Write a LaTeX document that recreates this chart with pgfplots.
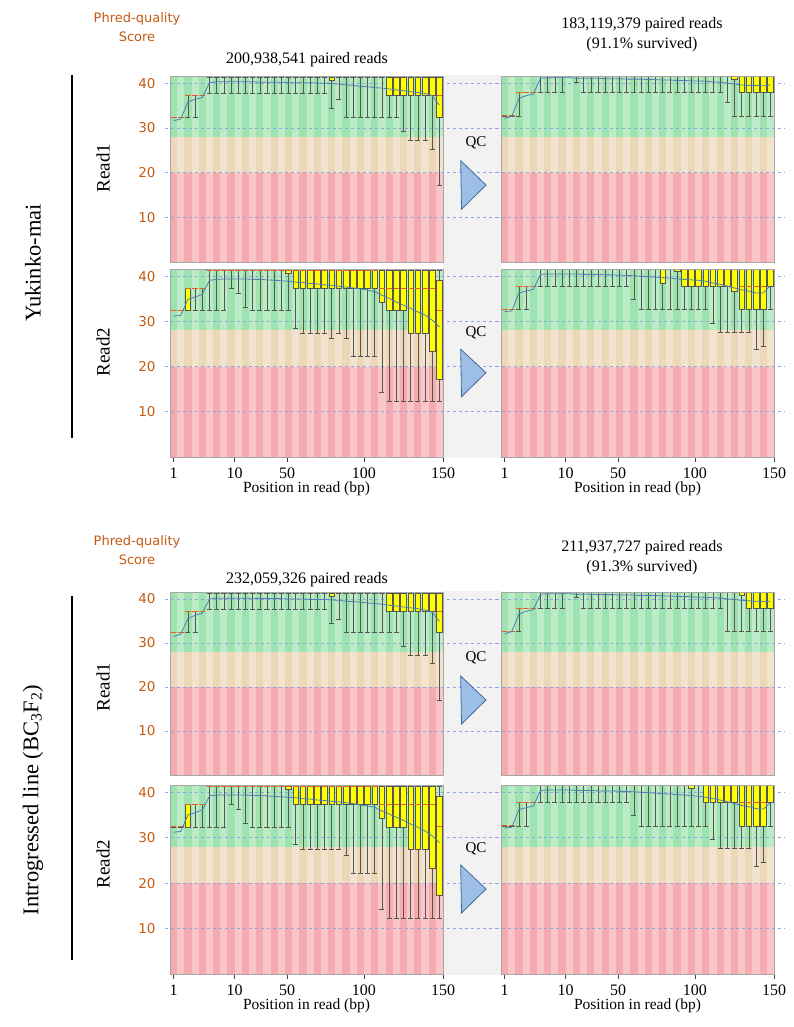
\documentclass[border=0pt]{standalone}
\usepackage{fontspec}
\setmainfont{Liberation Serif}
\newfontfamily\dv{DejaVu Sans}
\usepackage{pgfplots}
\usepackage{pgfplotstable}
\usepgfplotslibrary{statistics}
\pgfplotsset{compat=1.18}

\definecolor{phred}{RGB}{197,90,17}
\definecolor{bgg}{RGB}{157,226,175}
\definecolor{bgo}{RGB}{236,215,185}
\definecolor{bgr}{RGB}{245,170,175}
\definecolor{gridc}{RGB}{140,168,222}
\definecolor{whisk}{RGB}{85,85,85}
\definecolor{boxy}{RGB}{255,255,0}
\definecolor{medc}{RGB}{230,95,40}
\definecolor{meanc}{RGB}{80,125,180}
\definecolor{gapc}{RGB}{242,242,242}
\definecolor{trif}{RGB}{157,190,230}
\definecolor{trid}{RGB}{65,105,160}

% per-position quality: 10% whisker, quartiles, median, 90% whisker, mean
% Yukinko-mai, Read1, raw
\pgfplotstableread{
c lo q1 med q3 hi mean
1 32.4 32.4 32.4 32.4 32.4 31.6
2 32.4 32.4 32.4 32.4 32.4 32.0
3 32.4 37.3 37.3 37.3 37.3 35.8
4 32.4 37.3 37.3 37.3 37.3 36.4
5 37.3 37.3 37.3 37.3 37.3 36.8
6 37.7 41.4 41.4 41.4 41.4 40.1
7 37.7 41.4 41.4 41.4 41.4 40.3
8 37.7 41.4 41.4 41.4 41.4 40.3
9 37.7 41.4 41.4 41.4 41.4 40.3
10 37.7 41.4 41.4 41.4 41.4 40.3
11 37.7 41.4 41.4 41.4 41.4 40.3
12 37.7 41.4 41.4 41.4 41.4 40.3
13 37.7 41.4 41.4 41.4 41.4 40.2
14 37.7 41.4 41.4 41.4 41.4 40.2
15 37.7 41.4 41.4 41.4 41.4 40.2
16 37.7 41.4 41.4 41.4 41.4 40.2
17 37.7 41.4 41.4 41.4 41.4 40.1
18 37.7 41.4 41.4 41.4 41.4 40.1
19 37.7 41.4 41.4 41.4 41.4 40.1
20 37.7 41.4 41.4 41.4 41.4 40.1
21 37.7 41.4 41.4 41.4 41.4 40.0
22 37.7 41.4 41.4 41.4 41.4 40.0
23 34.4 40.7 41.4 41.4 41.4 39.9
24 36.4 41.4 41.4 41.4 41.4 39.8
25 32.4 41.4 41.4 41.4 41.4 39.6
26 32.4 41.4 41.4 41.4 41.4 39.5
27 32.4 41.4 41.4 41.4 41.4 39.3
28 32.4 41.4 41.4 41.4 41.4 39.2
29 32.4 41.4 41.4 41.4 41.4 39.0
30 32.4 41.4 41.4 41.4 41.4 38.9
31 32.4 37.3 41.4 41.4 41.4 38.7
32 32.4 37.3 41.4 41.4 41.4 38.5
33 29.2 37.3 41.4 41.4 41.4 38.3
34 27.3 37.3 41.4 41.4 41.4 38.1
35 27.3 37.3 41.4 41.4 41.4 37.9
36 27.3 37.3 41.4 41.4 41.4 37.7
37 25.3 37.3 41.4 41.4 41.4 37.2
38 17.1 32.4 37.3 41.4 41.4 35.1
}\tA
% Yukinko-mai, Read2, raw
\pgfplotstableread{
c lo q1 med q3 hi mean
1 32.4 32.4 32.4 32.4 32.4 31.2
2 32.4 32.4 32.4 32.4 32.4 31.3
3 32.4 32.4 37.3 37.3 37.3 34.9
4 32.4 37.3 37.3 37.3 37.3 35.4
5 32.4 37.3 37.3 37.3 37.3 36.0
6 32.4 41.3 41.3 41.3 41.3 39.1
7 32.4 41.3 41.3 41.3 41.3 39.3
8 32.4 41.3 41.3 41.3 41.3 39.4
9 37.3 41.3 41.3 41.3 41.3 39.4
10 36.3 41.3 41.3 41.3 41.3 39.4
11 33.2 41.3 41.3 41.3 41.3 39.4
12 32.4 41.3 41.3 41.3 41.3 39.3
13 32.4 41.3 41.3 41.3 41.3 39.3
14 32.4 41.3 41.3 41.3 41.3 39.2
15 32.4 41.3 41.3 41.3 41.3 39.1
16 32.4 41.3 41.3 41.3 41.3 39.0
17 32.4 40.6 41.3 41.3 41.3 38.9
18 28.5 37.3 41.3 41.3 41.3 38.7
19 27.4 37.3 41.3 41.3 41.3 38.6
20 27.4 37.3 41.3 41.3 41.3 38.4
21 27.4 37.3 41.3 41.3 41.3 38.3
22 27.4 37.3 41.3 41.3 41.3 38.1
23 26.2 37.3 41.3 41.3 41.3 38.0
24 27.4 37.3 41.3 41.3 41.3 37.8
25 26.2 37.3 41.3 41.3 41.3 37.6
26 22.2 37.3 41.3 41.3 41.3 37.4
27 22.2 37.3 41.3 41.3 41.3 37.2
28 22.2 37.3 41.3 41.3 41.3 36.9
29 22.2 37.3 41.3 41.3 41.3 36.6
30 14.3 34.3 37.3 41.3 41.3 35.8
31 12.3 32.4 37.3 41.3 41.3 35.1
32 12.3 32.4 37.3 41.3 41.3 34.3
33 12.3 32.4 37.3 41.3 41.3 33.6
34 12.3 27.4 37.3 41.3 41.3 32.9
35 12.3 27.4 37.3 41.3 41.3 32.1
36 12.3 27.4 37.3 41.3 41.3 31.4
37 12.3 23.3 37.3 41.3 41.3 30.3
38 12.3 17.3 32.4 39.1 41.3 28.8
}\tB
% Yukinko-mai, Read1, after QC
\pgfplotstableread{
c lo q1 med q3 hi mean
1 32.7 32.7 32.7 32.7 32.7 32.1
2 32.7 32.7 32.7 32.7 32.7 32.6
3 32.7 37.9 37.9 37.9 37.9 36.6
4 37.9 37.9 37.9 37.9 37.9 37.2
5 37.9 37.9 37.9 37.9 37.9 37.6
6 37.9 41.5 41.5 41.5 41.5 41.1
7 37.9 41.5 41.5 41.5 41.5 41.2
8 37.9 41.5 41.5 41.5 41.5 41.2
9 37.9 41.5 41.5 41.5 41.5 41.2
10 41.5 41.5 41.5 41.5 41.5 41.2
11 40.3 41.5 41.5 41.5 41.5 41.1
12 37.9 41.5 41.5 41.5 41.5 41.1
13 37.9 41.5 41.5 41.5 41.5 41.1
14 37.9 41.5 41.5 41.5 41.5 41.1
15 37.9 41.5 41.5 41.5 41.5 41.0
16 37.9 41.5 41.5 41.5 41.5 41.0
17 37.9 41.5 41.5 41.5 41.5 41.0
18 37.9 41.5 41.5 41.5 41.5 40.9
19 37.9 41.5 41.5 41.5 41.5 40.9
20 37.9 41.5 41.5 41.5 41.5 40.9
21 37.9 41.5 41.5 41.5 41.5 40.8
22 37.9 41.5 41.5 41.5 41.5 40.8
23 37.9 41.5 41.5 41.5 41.5 40.7
24 37.9 41.5 41.5 41.5 41.5 40.7
25 37.9 41.5 41.5 41.5 41.5 40.6
26 37.9 41.5 41.5 41.5 41.5 40.6
27 37.9 41.5 41.5 41.5 41.5 40.5
28 37.9 41.5 41.5 41.5 41.5 40.5
29 37.9 41.5 41.5 41.5 41.5 40.4
30 37.9 41.5 41.5 41.5 41.5 40.3
31 37.9 41.5 41.5 41.5 41.5 40.2
32 35.7 41.5 41.5 41.5 41.5 40.0
33 32.7 40.9 41.5 41.5 41.5 39.8
34 32.7 37.9 41.5 41.5 41.5 39.6
35 32.7 37.9 41.5 41.5 41.5 39.5
36 32.7 37.9 41.5 41.5 41.5 39.5
37 32.7 37.9 41.5 41.5 41.5 39.4
38 32.7 37.9 41.5 41.5 41.5 39.6
}\tC
% Yukinko-mai, Read2, after QC
\pgfplotstableread{
c lo q1 med q3 hi mean
1 32.6 32.6 32.6 32.6 32.6 32.2
2 32.6 32.6 32.6 32.6 32.6 32.3
3 32.6 37.8 37.8 37.8 37.8 36.3
4 32.6 37.8 37.8 37.8 37.8 36.7
5 37.8 37.8 37.8 37.8 37.8 37.1
6 37.8 41.5 41.5 41.5 41.5 40.4
7 37.8 41.5 41.5 41.5 41.5 40.5
8 37.8 41.5 41.5 41.5 41.5 40.5
9 37.8 41.5 41.5 41.5 41.5 40.5
10 37.8 41.5 41.5 41.5 41.5 40.5
11 37.8 41.5 41.5 41.5 41.5 40.5
12 37.8 41.5 41.5 41.5 41.5 40.4
13 37.8 41.5 41.5 41.5 41.5 40.4
14 37.8 41.5 41.5 41.5 41.5 40.4
15 37.8 41.5 41.5 41.5 41.5 40.3
16 37.8 41.5 41.5 41.5 41.5 40.3
17 37.8 41.5 41.5 41.5 41.5 40.2
18 37.8 41.5 41.5 41.5 41.5 40.2
19 34.9 41.5 41.5 41.5 41.5 40.1
20 32.6 41.5 41.5 41.5 41.5 40.0
21 32.6 41.5 41.5 41.5 41.5 39.9
22 32.6 41.5 41.5 41.5 41.5 39.8
23 32.6 38.5 41.5 41.5 41.5 39.7
24 32.6 41.5 41.5 41.5 41.5 39.6
25 32.6 41.0 41.5 41.5 41.5 39.4
26 32.6 37.8 41.5 41.5 41.5 39.3
27 32.6 37.8 41.5 41.5 41.5 39.2
28 32.6 37.8 41.5 41.5 41.5 39.1
29 32.6 37.8 41.5 41.5 41.5 38.9
30 29.7 37.8 41.5 41.5 41.5 38.5
31 27.6 37.8 41.5 41.5 41.5 38.2
32 27.6 37.8 41.5 41.5 41.5 37.8
33 27.6 36.7 41.5 41.5 41.5 37.4
34 27.6 32.6 37.8 41.5 41.5 37.0
35 27.6 32.6 37.8 41.5 41.5 36.7
36 23.8 32.6 37.8 41.5 41.5 36.3
37 24.6 32.6 37.8 41.5 41.5 36.3
38 32.6 37.8 41.5 41.5 41.5 37.9
}\tD
% Introgressed line, Read1, raw
\pgfplotstableread{
c lo q1 med q3 hi mean
1 32.4 32.4 32.4 32.4 32.4 31.5
2 32.4 32.4 32.4 32.4 32.4 32.0
3 32.4 37.3 37.3 37.3 37.3 35.6
4 32.4 37.3 37.3 37.3 37.3 36.3
5 37.3 37.3 37.3 37.3 37.3 36.8
6 37.7 41.4 41.4 41.4 41.4 40.0
7 37.7 41.4 41.4 41.4 41.4 40.2
8 37.7 41.4 41.4 41.4 41.4 40.2
9 37.7 41.4 41.4 41.4 41.4 40.2
10 37.7 41.4 41.4 41.4 41.4 40.2
11 37.7 41.4 41.4 41.4 41.4 40.2
12 37.7 41.4 41.4 41.4 41.4 40.2
13 37.7 41.4 41.4 41.4 41.4 40.1
14 37.7 41.4 41.4 41.4 41.4 40.1
15 37.7 41.4 41.4 41.4 41.4 40.1
16 37.7 41.4 41.4 41.4 41.4 40.1
17 37.7 41.4 41.4 41.4 41.4 40.0
18 37.7 41.4 41.4 41.4 41.4 40.0
19 37.7 41.4 41.4 41.4 41.4 40.0
20 37.7 41.4 41.4 41.4 41.4 39.9
21 37.7 41.4 41.4 41.4 41.4 39.9
22 37.7 41.4 41.4 41.4 41.4 39.9
23 34.4 40.7 41.4 41.4 41.4 39.8
24 35.5 41.4 41.4 41.4 41.4 39.7
25 32.4 41.4 41.4 41.4 41.4 39.5
26 32.4 41.4 41.4 41.4 41.4 39.4
27 32.4 41.4 41.4 41.4 41.4 39.3
28 32.4 41.4 41.4 41.4 41.4 39.1
29 32.4 41.4 41.4 41.4 41.4 39.0
30 32.4 41.4 41.4 41.4 41.4 38.8
31 32.4 37.3 41.4 41.4 41.4 38.6
32 32.4 37.3 41.4 41.4 41.4 38.4
33 29.2 37.3 41.4 41.4 41.4 38.2
34 27.3 37.3 41.4 41.4 41.4 38.0
35 27.3 37.3 41.4 41.4 41.4 37.8
36 27.3 37.3 41.4 41.4 41.4 37.5
37 25.3 37.3 41.4 41.4 41.4 37.0
38 17.1 32.4 37.3 41.4 41.4 34.9
}\tE
% Introgressed line, Read2, raw
\pgfplotstableread{
c lo q1 med q3 hi mean
1 32.4 32.4 32.4 32.4 32.4 31.2
2 32.4 32.4 32.4 32.4 32.4 31.4
3 32.4 32.4 37.3 37.3 37.3 35.0
4 32.4 37.3 37.3 37.3 37.3 35.5
5 32.4 37.3 37.3 37.3 37.3 36.1
6 32.4 41.3 41.3 41.3 41.3 39.2
7 32.4 41.3 41.3 41.3 41.3 39.4
8 32.4 41.3 41.3 41.3 41.3 39.4
9 37.3 41.3 41.3 41.3 41.3 39.4
10 36.3 41.3 41.3 41.3 41.3 39.4
11 33.2 41.3 41.3 41.3 41.3 39.4
12 32.4 41.3 41.3 41.3 41.3 39.3
13 32.4 41.3 41.3 41.3 41.3 39.3
14 32.4 41.3 41.3 41.3 41.3 39.2
15 32.4 41.3 41.3 41.3 41.3 39.1
16 32.4 41.3 41.3 41.3 41.3 39.0
17 32.4 40.6 41.3 41.3 41.3 38.9
18 28.5 37.3 41.3 41.3 41.3 38.8
19 27.4 37.3 41.3 41.3 41.3 38.6
20 27.4 37.3 41.3 41.3 41.3 38.5
21 27.4 37.3 41.3 41.3 41.3 38.3
22 27.4 37.3 41.3 41.3 41.3 38.2
23 27.4 37.3 41.3 41.3 41.3 38.0
24 27.4 37.3 41.3 41.3 41.3 37.9
25 26.2 37.3 41.3 41.3 41.3 37.7
26 22.2 37.3 41.3 41.3 41.3 37.5
27 22.2 37.3 41.3 41.3 41.3 37.2
28 22.2 37.3 41.3 41.3 41.3 37.0
29 22.2 37.3 41.3 41.3 41.3 36.7
30 14.3 34.3 37.3 41.3 41.3 35.9
31 12.3 32.4 37.3 41.3 41.3 35.2
32 12.3 32.4 37.3 41.3 41.3 34.5
33 12.3 32.4 37.3 41.3 41.3 33.8
34 12.3 27.4 37.3 41.3 41.3 33.0
35 12.3 27.4 37.3 41.3 41.3 32.3
36 12.3 27.4 37.3 41.3 41.3 31.5
37 12.3 23.3 37.3 41.3 41.3 30.4
38 12.3 17.3 32.4 39.1 41.3 28.9
}\tF
% Introgressed line, Read1, after QC
\pgfplotstableread{
c lo q1 med q3 hi mean
1 32.7 32.7 32.7 32.7 32.7 32.1
2 32.7 32.7 32.7 32.7 32.7 32.6
3 32.7 37.9 37.9 37.9 37.9 36.6
4 37.9 37.9 37.9 37.9 37.9 37.2
5 37.9 37.9 37.9 37.9 37.9 37.6
6 37.9 41.5 41.5 41.5 41.5 41.1
7 37.9 41.5 41.5 41.5 41.5 41.2
8 37.9 41.5 41.5 41.5 41.5 41.2
9 37.9 41.5 41.5 41.5 41.5 41.2
10 41.5 41.5 41.5 41.5 41.5 41.2
11 40.3 41.5 41.5 41.5 41.5 41.1
12 37.9 41.5 41.5 41.5 41.5 41.1
13 37.9 41.5 41.5 41.5 41.5 41.1
14 37.9 41.5 41.5 41.5 41.5 41.0
15 37.9 41.5 41.5 41.5 41.5 41.0
16 37.9 41.5 41.5 41.5 41.5 41.0
17 37.9 41.5 41.5 41.5 41.5 40.9
18 37.9 41.5 41.5 41.5 41.5 40.9
19 37.9 41.5 41.5 41.5 41.5 40.9
20 37.9 41.5 41.5 41.5 41.5 40.8
21 37.9 41.5 41.5 41.5 41.5 40.8
22 37.9 41.5 41.5 41.5 41.5 40.8
23 37.9 41.5 41.5 41.5 41.5 40.7
24 37.9 41.5 41.5 41.5 41.5 40.7
25 37.9 41.5 41.5 41.5 41.5 40.6
26 37.9 41.5 41.5 41.5 41.5 40.6
27 37.9 41.5 41.5 41.5 41.5 40.5
28 37.9 41.5 41.5 41.5 41.5 40.4
29 37.9 41.5 41.5 41.5 41.5 40.4
30 37.9 41.5 41.5 41.5 41.5 40.3
31 37.9 41.5 41.5 41.5 41.5 40.2
32 32.7 41.5 41.5 41.5 41.5 40.0
33 32.7 41.5 41.5 41.5 41.5 39.9
34 32.7 40.8 41.5 41.5 41.5 39.7
35 32.7 37.9 41.5 41.5 41.5 39.6
36 32.7 37.9 41.5 41.5 41.5 39.5
37 32.7 37.9 41.5 41.5 41.5 39.4
38 32.7 37.9 41.5 41.5 41.5 39.5
}\tG
% Introgressed line, Read2, after QC
\pgfplotstableread{
c lo q1 med q3 hi mean
1 32.6 32.6 32.6 32.6 32.6 32.1
2 32.6 32.6 32.6 32.6 32.6 32.3
3 32.6 37.8 37.8 37.8 37.8 36.2
4 32.6 37.8 37.8 37.8 37.8 36.6
5 37.8 37.8 37.8 37.8 37.8 37.0
6 37.8 41.5 41.5 41.5 41.5 40.4
7 37.8 41.5 41.5 41.5 41.5 40.5
8 37.8 41.5 41.5 41.5 41.5 40.5
9 37.8 41.5 41.5 41.5 41.5 40.5
10 37.8 41.5 41.5 41.5 41.5 40.5
11 37.8 41.5 41.5 41.5 41.5 40.4
12 37.8 41.5 41.5 41.5 41.5 40.4
13 37.8 41.5 41.5 41.5 41.5 40.4
14 37.8 41.5 41.5 41.5 41.5 40.3
15 37.8 41.5 41.5 41.5 41.5 40.3
16 37.8 41.5 41.5 41.5 41.5 40.3
17 37.8 41.5 41.5 41.5 41.5 40.2
18 37.8 41.5 41.5 41.5 41.5 40.2
19 34.9 41.5 41.5 41.5 41.5 40.1
20 32.6 41.5 41.5 41.5 41.5 40.0
21 32.6 41.5 41.5 41.5 41.5 39.9
22 32.6 41.5 41.5 41.5 41.5 39.8
23 32.6 41.5 41.5 41.5 41.5 39.7
24 32.6 41.5 41.5 41.5 41.5 39.6
25 32.6 41.5 41.5 41.5 41.5 39.5
26 32.6 41.5 41.5 41.5 41.5 39.4
27 32.6 40.8 41.5 41.5 41.5 39.3
28 32.6 41.5 41.5 41.5 41.5 39.1
29 32.6 37.8 41.5 41.5 41.5 38.9
30 29.7 37.8 41.5 41.5 41.5 38.6
31 27.6 37.8 41.5 41.5 41.5 38.3
32 27.6 37.8 41.5 41.5 41.5 37.9
33 27.6 37.8 41.5 41.5 41.5 37.5
34 27.6 32.6 37.8 41.5 41.5 37.1
35 27.6 32.6 37.8 41.5 41.5 36.8
36 23.8 32.6 37.8 41.5 41.5 36.4
37 24.6 32.6 37.8 41.5 41.5 36.3
38 32.6 37.8 41.5 41.5 41.5 37.7
}\tH

\pgfplotsset{
  qc/.style={
    scale only axis, width=273pt, anchor=north west,
    xmin=0.5, xmax=38.5, ymin=0, ymax=41.6, clip=false, axis on top,
    axis line style={draw=black!35, line width=0.6pt},
    xtick pos=bottom, ytick pos=left, tick align=outside, major tick length=5pt,
    xtick={1,9.5,16.8,27.5,38.5}, xticklabels={1,10,50,100,150},
    xtick style={draw=black!75, line width=0.6pt},
    ytick={10,20,30,40}, yticklabels={10,20,30,40}, ytick style={draw=none},
    xticklabel style={font=\fontsize{16}{16}\selectfont, inner sep=1pt, yshift=-5pt},
    yticklabel style={font=\dv\fontsize{13.5}{14}\selectfont, text=phred, xshift=-6pt},
    xlabel style={font=\fontsize{15.5}{16}\selectfont, inner sep=1pt, yshift=-1pt},
    /pgf/number format/assume math mode=true,
  },
  top/.style={xtick=\empty},
  bottom/.style={xlabel={Position in read (bp)}},
  right/.style={ytick=\empty},
  qcbox/.style={draw=whisk, fill=boxy, line width=0.55pt,
    boxplot/draw direction=y,
    boxplot/box extend=0.78, boxplot/whisker extend=0.7,
    boxplot/every median/.style={draw=medc, line width=0.8pt}},
}

% one box of a panel: #1 table, #2 row
\newcommand{\qcboxrow}[2]{%
  \pgfplotstablegetelem{#2}{lo}\of#1\let\vlo\pgfplotsretval
  \pgfplotstablegetelem{#2}{q1}\of#1\let\vqa\pgfplotsretval
  \pgfplotstablegetelem{#2}{med}\of#1\let\vmed\pgfplotsretval
  \pgfplotstablegetelem{#2}{q3}\of#1\let\vqb\pgfplotsretval
  \pgfplotstablegetelem{#2}{hi}\of#1\let\vhi\pgfplotsretval
  \pgfmathtruncatemacro\vpos{#2+1}%
  \edef\tmp{\noexpand\addplot[qcbox, boxplot prepared={draw position=\vpos,
    lower whisker=\vlo, lower quartile=\vqa, median=\vmed,
    upper quartile=\vqb, upper whisker=\vhi}] coordinates {};}%
  \tmp
}

% background bands, dashed guides, boxes and mean line of one panel
\newcommand{\qcpanel}[2]{%
  \fill[bgg] (axis cs:0.5,28) rectangle (axis cs:38.5,41.6);
  \fill[bgo] (axis cs:0.5,20) rectangle (axis cs:38.5,28);
  \fill[bgr] (axis cs:0.5,0) rectangle (axis cs:38.5,20);
  \pgfplotsinvokeforeach{1.5,3.5,...,37.5}{%
    \fill[white,opacity=0.32] (axis cs:##1,0) rectangle +(axis direction cs:1,41.6);}
  \pgfplotsinvokeforeach{10,20,30,40}{%
    \draw[gridc,dash pattern=on 3.5pt off 2.5pt,line width=0.7pt] (axis cs:-0.2,##1) -- (axis cs:#2,##1);}
  \pgfplotsinvokeforeach{0,...,37}{\qcboxrow{#1}{##1}}
  \addplot[meanc, line width=0.8pt] table[x=c, y=mean] {#1};
}

\begin{document}
\begin{tikzpicture}
\path[use as bounding box] (0,0) rectangle (794pt,-1027pt);

% ---------- Yukinko-mai ----------
\node[text=phred, font=\dv\fontsize{13}{19}\selectfont, align=center] at (137pt,-27.5pt) {Phred-quality\\Score};
\node[font=\fontsize{16}{18}\selectfont] at (307pt,-60pt) {200,938,541 paired reads};
\node[font=\fontsize{16}{20}\selectfont, align=center] at (642pt,-35pt) {183,119,379 paired reads\\(91.1\% survived)};
\node[rotate=90, font=\fontsize{22.5}{24}\selectfont] at (33pt,-263pt) {Yukinko-mai};
\draw[line width=1.4pt] (72pt,-75pt) -- (72pt,-438pt);
\node[rotate=90, font=\fontsize{19}{20}\selectfont] at (103pt,-168pt) {Read1};
\node[rotate=90, font=\fontsize{19}{20}\selectfont] at (103pt,-352pt) {Read2};
\fill[gapc] (443pt,-75pt) rectangle (501pt,-458pt);

\begin{axis}[qc, top, at={(170pt,-76pt)}, height=186pt]
\qcpanel{\tA}{46.6}
\end{axis}
\begin{axis}[qc, bottom, at={(170pt,-269pt)}, height=188pt]
\qcpanel{\tB}{46.6}
\end{axis}
\begin{axis}[qc, top, right, at={(501pt,-76pt)}, height=186pt]
\qcpanel{\tC}{40}
\end{axis}
\begin{axis}[qc, bottom, right, at={(501pt,-269pt)}, height=188pt]
\qcpanel{\tD}{40}
\end{axis}

\node[font=\fontsize{15}{15}\selectfont] at (476pt,-143pt) {QC};
\draw[trid, fill=trif, line width=0.8pt] (460.7pt,-160.7pt) -- (486pt,-185pt) -- (461.5pt,-209.3pt) -- cycle;
\node[font=\fontsize{15}{15}\selectfont] at (476pt,-333pt) {QC};
\draw[trid, fill=trif, line width=0.8pt] (460.7pt,-349.3pt) -- (486pt,-372.7pt) -- (461.5pt,-396.7pt) -- cycle;

% ---------- Introgressed line ----------
\node[text=phred, font=\dv\fontsize{13}{19}\selectfont, align=center] at (137pt,-550pt) {Phred-quality\\Score};
\node[font=\fontsize{16}{18}\selectfont] at (307pt,-580pt) {232,059,326 paired reads};
\node[font=\fontsize{16}{20}\selectfont, align=center] at (642pt,-558pt) {211,937,727 paired reads\\(91.3\% survived)};
\node[rotate=90, font=\fontsize{22.5}{24}\selectfont] at (33pt,-800pt) {Introgressed line (BC\textsubscript{3}F\textsubscript{2})};
\draw[line width=1.4pt] (72pt,-596pt) -- (72pt,-960pt);
\node[rotate=90, font=\fontsize{19}{20}\selectfont] at (103pt,-687pt) {Read1};
\node[rotate=90, font=\fontsize{19}{20}\selectfont] at (103pt,-864pt) {Read2};
\fill[gapc] (443pt,-591pt) rectangle (501pt,-975pt);

\begin{axis}[qc, top, at={(170pt,-592pt)}, height=183pt]
\qcpanel{\tE}{46.6}
\end{axis}
\begin{axis}[qc, bottom, at={(170pt,-785pt)}, height=189pt]
\qcpanel{\tF}{46.6}
\end{axis}
\begin{axis}[qc, top, right, at={(501pt,-592pt)}, height=183pt]
\qcpanel{\tG}{40}
\end{axis}
\begin{axis}[qc, bottom, right, at={(501pt,-785pt)}, height=189pt]
\qcpanel{\tH}{40}
\end{axis}

\node[font=\fontsize{15}{15}\selectfont] at (476pt,-658pt) {QC};
\draw[trid, fill=trif, line width=0.8pt] (460.7pt,-676pt) -- (486pt,-700pt) -- (461.5pt,-724pt) -- cycle;
\node[font=\fontsize{15}{15}\selectfont] at (476pt,-849pt) {QC};
\draw[trid, fill=trif, line width=0.8pt] (460.7pt,-865pt) -- (486pt,-889pt) -- (461.5pt,-913pt) -- cycle;
\end{tikzpicture}
\end{document}
